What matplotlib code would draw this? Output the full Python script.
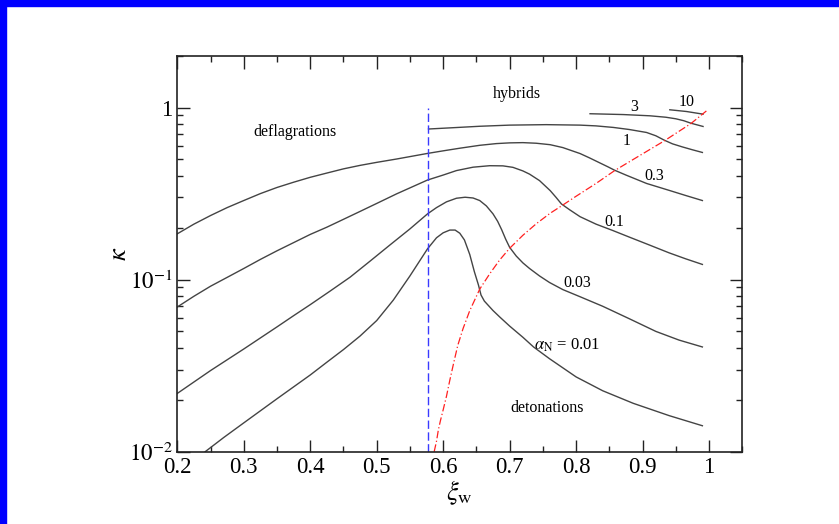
import matplotlib
matplotlib.use("Agg")
import matplotlib.pyplot as plt
from matplotlib.patches import Rectangle
from matplotlib.ticker import MultipleLocator, LogLocator, NullFormatter, FixedLocator

plt.rcParams['font.family'] = ['Liberation Serif', 'DejaVu Serif']
plt.rcParams['mathtext.fontset'] = 'stix'

# efficiency factor kappa vs wall velocity, one curve per alpha_N
xi_001 = [0.242, 0.27, 0.30, 0.35, 0.40, 0.425, 0.45, 0.475, 0.50, 0.525, 0.55, 0.5765,
          0.59, 0.60, 0.61, 0.618, 0.625, 0.632, 0.64, 0.647, 0.653, 0.657, 0.662,
          0.675, 0.685, 0.70, 0.72, 0.736, 0.76, 0.80, 0.84, 0.886, 0.94, 0.99]
k_001 = [0.0100, 0.0121, 0.0147, 0.0203, 0.0279, 0.0331, 0.0392, 0.0470, 0.0578, 0.0760,
         0.105, 0.151, 0.175, 0.187, 0.194, 0.194, 0.186, 0.170, 0.140, 0.111, 0.0933,
         0.0813, 0.075, 0.0661, 0.0607, 0.0537, 0.0462, 0.0406, 0.0347, 0.0272, 0.0226,
         0.0191, 0.0162, 0.01415]

xi_003 = [0.2, 0.25, 0.30, 0.325, 0.35, 0.375, 0.40, 0.43, 0.46, 0.49, 0.52, 0.55, 0.5765,
          0.59, 0.605, 0.62, 0.633, 0.645, 0.655, 0.665, 0.675, 0.682, 0.688, 0.694, 0.700,
          0.71, 0.72, 0.73, 0.745, 0.760, 0.78, 0.806, 0.84, 0.881, 0.92, 0.955, 0.99]
k_003 = [0.0218, 0.0296, 0.0395, 0.0458, 0.0531, 0.0617, 0.0715, 0.0858, 0.1033, 0.128,
         0.159, 0.197, 0.241, 0.262, 0.283, 0.297, 0.301, 0.298, 0.288, 0.268, 0.241,
         0.218, 0.195, 0.172, 0.154, 0.137, 0.125, 0.116, 0.105, 0.0962, 0.0875, 0.0795,
         0.070, 0.059, 0.050, 0.0445, 0.0406]

xi_01 = [0.20, 0.225, 0.25, 0.275, 0.30, 0.325, 0.35, 0.375, 0.40, 0.425, 0.45, 0.475, 0.50,
         0.53, 0.5765, 0.60, 0.62, 0.645, 0.67, 0.69, 0.705, 0.72, 0.73, 0.745, 0.761, 0.77,
         0.778, 0.79, 0.806, 0.83, 0.855, 0.881, 0.91, 0.94, 0.965, 0.99]
k_01 = [0.0693, 0.080, 0.0915, 0.103, 0.116, 0.131, 0.147, 0.164, 0.183, 0.2016, 0.224,
        0.249, 0.277, 0.315, 0.379, 0.405, 0.43, 0.450, 0.459, 0.458, 0.449, 0.428, 0.410,
        0.376, 0.329, 0.300, 0.275, 0.255, 0.232, 0.210, 0.193, 0.176, 0.159, 0.143, 0.132,
        0.1225]

xi_03 = [0.20, 0.225, 0.25, 0.275, 0.30, 0.325, 0.35, 0.375, 0.40, 0.425, 0.45, 0.475, 0.50,
         0.53, 0.5765, 0.60, 0.625, 0.655, 0.68, 0.70, 0.72, 0.74, 0.761, 0.78, 0.806, 0.82,
         0.835, 0.848, 0.858, 0.875, 0.906, 0.94, 0.965, 0.99]
k_03 = [0.1845, 0.210, 0.2356, 0.262, 0.288, 0.316, 0.343, 0.368, 0.393, 0.416, 0.44,
        0.461, 0.480, 0.502, 0.541, 0.560, 0.580, 0.603, 0.617, 0.623, 0.625, 0.620, 0.608,
        0.585, 0.540, 0.510, 0.478, 0.452, 0.432, 0.405, 0.362, 0.330, 0.308, 0.288]

xi_1 = [0.578, 0.62, 0.655, 0.70, 0.755, 0.806, 0.83, 0.856, 0.88, 0.906, 0.92, 0.933,
        0.945, 0.96, 0.975, 0.99]
k_1 = [0.75, 0.765, 0.778, 0.79, 0.795, 0.79, 0.782, 0.766, 0.745, 0.716, 0.685, 0.645,
       0.615, 0.59, 0.568, 0.548]

xi_3 = [0.821, 0.871, 0.911, 0.935, 0.950, 0.962, 0.973, 0.991]
k_3 = [0.92, 0.91, 0.895, 0.878, 0.86, 0.838, 0.81, 0.776]

xi_10 = [0.941, 0.966, 0.991]
k_10 = [0.97, 0.948, 0.915]

# Jouguet velocity line
xi_J = [0.5865, 0.590, 0.5928, 0.596, 0.600, 0.605, 0.610, 0.616, 0.622, 0.63, 0.64, 0.655,
        0.67, 0.685, 0.700, 0.72, 0.74, 0.761, 0.778, 0.80, 0.83, 0.858, 0.89, 0.933, 0.973,
        0.996]
k_J = [0.01, 0.0115, 0.0134, 0.0152, 0.0175, 0.021, 0.026, 0.033, 0.0415, 0.052, 0.066,
       0.088, 0.108, 0.130, 0.152, 0.181, 0.211, 0.243, 0.268, 0.305, 0.362, 0.43, 0.51,
       0.641, 0.808, 0.955]

# speed of sound
c_s = 0.577

curves = [(xi_001, k_001), (xi_003, k_003), (xi_01, k_01), (xi_03, k_03),
          (xi_1, k_1), (xi_3, k_3), (xi_10, k_10)]

fig = plt.figure(figsize=(8.39, 5.24), dpi=100)
ax = fig.add_axes([0.2113, 0.138, 0.6734, 0.7557])

for xs, ks in curves:
    ax.plot(xs, ks, color='#444444', lw=1.0)

ax.plot([c_s, c_s], [0.01, 1.0], color='#3a3aff', lw=1.0, ls=(0, (6, 2.5)))
ax.plot(xi_J, k_J, color='#ff2020', lw=0.9, ls=(0, (6, 2, 1, 2)))

ax.set_yscale('log')
ax.set_xlim(0.2, 1.05)
ax.set_ylim(0.01, 2.0)

ax.xaxis.set_major_locator(FixedLocator([0.2, 0.3, 0.4, 0.5, 0.6, 0.7, 0.8, 0.9, 1.0]))
ax.xaxis.set_minor_locator(MultipleLocator(0.05))
ax.set_xticklabels(['0.2', '0.3', '0.4', '0.5', '0.6', '0.7', '0.8', '0.9', '1'])
ax.yaxis.set_major_locator(FixedLocator([0.01, 0.1, 1.0]))
ax.set_yticklabels([r'$10^{-2}$', r'$10^{-1}$', '1'])
ax.yaxis.set_minor_locator(LogLocator(base=10, subs=range(2, 10)))
ax.yaxis.set_minor_formatter(NullFormatter())

ax.tick_params(which='both', direction='in', top=True, right=True, labelsize=16.5,
               width=1.0, color='#222222')
ax.tick_params(which='major', length=9)
ax.tick_params(which='minor', length=4.5)
ax.tick_params(axis='x', which='major', pad=4)
for sp in ax.spines.values():
    sp.set_linewidth(1.2)
    sp.set_color('#222222')

ax.set_xlabel(r'$\xi_{\rm w}$', fontsize=19, labelpad=0)
ax.set_ylabel(r'$\kappa$', fontsize=19, labelpad=-2)

fs = 11.5
ax.text(0.377, 0.723, 'deflagrations', fontsize=fs, ha='center', va='center')
ax.text(0.711, 1.2, 'hybrids', fontsize=fs, ha='center', va='center')
ax.text(0.756, 0.0179, 'detonations', fontsize=fs, ha='center', va='center')
ax.text(0.888, 1.01, '3', fontsize=fs, ha='center', va='center')
ax.text(0.966, 1.08, '10', fontsize=fs, ha='center', va='center')
ax.text(0.876, 0.64, '1', fontsize=fs, ha='center', va='center')
ax.text(0.917, 0.402, '0.3', fontsize=fs, ha='center', va='center')
ax.text(0.857, 0.215, '0.1', fontsize=fs, ha='center', va='center')
ax.text(0.801, 0.096, '0.03', fontsize=fs, ha='center', va='center')
ax.text(0.787, 0.0415, r'$\alpha_{\rm N}$ = 0.01', fontsize=fs + 0.5, ha='center', va='center')

# blue frame along top and left edge
fig.patches.append(Rectangle((0, 1 - 6 / 524), 1, 6 / 524, transform=fig.transFigure,
                             color='#0000ff', zorder=10))
fig.patches.append(Rectangle((0, 0), 6 / 839, 1, transform=fig.transFigure,
                             color='#0000ff', zorder=10))

fig.savefig('out.png', dpi=100)
